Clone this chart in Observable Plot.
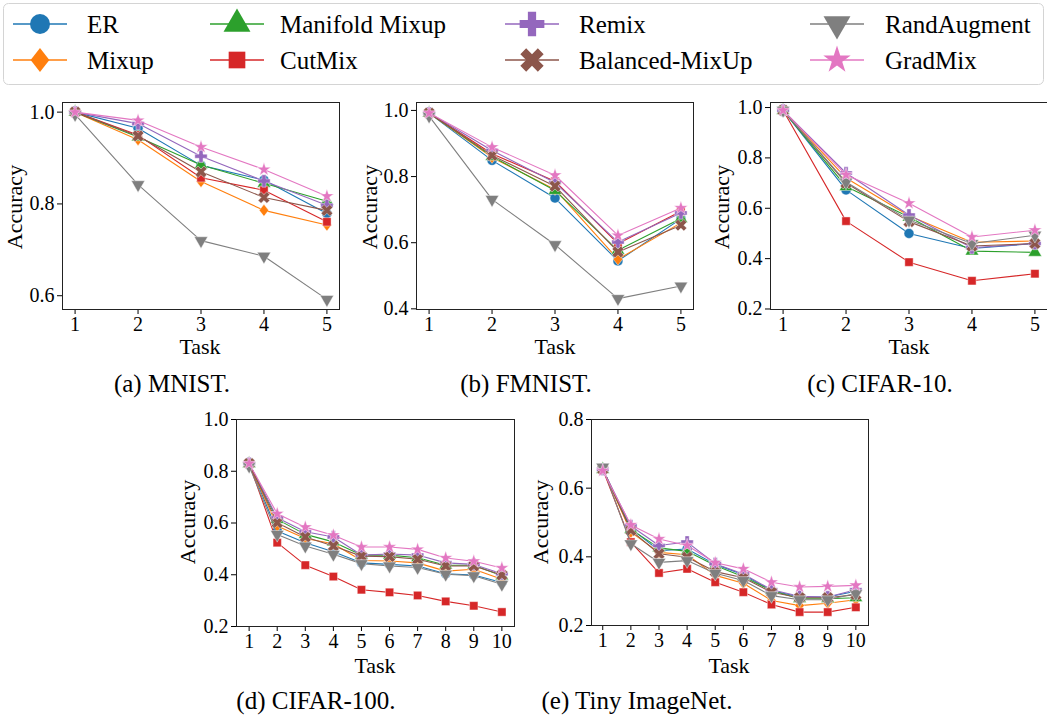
<!DOCTYPE html>
<html><head><meta charset="utf-8">
<script src="https://cdn.jsdelivr.net/npm/d3@7"></script>
<script src="https://cdn.jsdelivr.net/npm/@observablehq/plot@0.6"></script>
<style>
body{margin:0;background:#fff;font-family:"Liberation Serif","DejaVu Serif",serif;}
#root{position:relative;width:1047px;height:715px;overflow:hidden;background:#fff;}
#root svg text{font-family:"Liberation Serif",serif;}
.lbl{position:absolute;font-size:22px;white-space:nowrap;transform:translate(-50%,-50%);line-height:1;color:#000;}
.ylbl{transform:translate(-50%,-50%) rotate(-90deg);}
.cap{font-size:25px;}
</style></head><body><div id="root"></div>
<script>
// ---------------- data ----------------
const methods = ["ER","Mixup","Manifold Mixup","CutMix","Remix","Balanced-MixUp","RandAugment","GradMix"];
const colors = ["#1f77b4","#ff7f0e","#2ca02c","#d62728","#9467bd","#8c564b","#7f7f7f","#e377c2"];
const tasks5 = [1,2,3,4,5];
const tasks10 = [1,2,3,4,5,6,7,8,9,10];

// rows follow the order of `methods`
const mnist = [
  [1.0, 0.965, 0.884, 0.852, 0.779],
  [1.0, 0.940, 0.849, 0.786, 0.754],
  [1.0, 0.946, 0.885, 0.845, 0.806],
  [1.0, 0.950, 0.857, 0.830, 0.761],
  [1.0, 0.975, 0.904, 0.850, 0.797],
  [1.0, 0.948, 0.870, 0.814, 0.786],
  [0.995, 0.842, 0.720, 0.686, 0.592],
  [1.0, 0.982, 0.924, 0.875, 0.817]
];
const fmnist = [
  [0.992, 0.849, 0.735, 0.545, 0.672],
  [0.992, 0.858, 0.761, 0.550, 0.660],
  [0.992, 0.861, 0.758, 0.577, 0.673],
  [0.992, 0.869, 0.786, 0.597, 0.695],
  [0.992, 0.879, 0.782, 0.602, 0.690],
  [0.992, 0.864, 0.771, 0.572, 0.653],
  [0.983, 0.731, 0.594, 0.431, 0.469],
  [0.992, 0.889, 0.804, 0.622, 0.705]
];
const cifar10 = [
  [0.989, 0.673, 0.500, 0.440, 0.460],
  [0.989, 0.720, 0.570, 0.465, 0.470],
  [0.989, 0.686, 0.565, 0.430, 0.425],
  [0.989, 0.549, 0.386, 0.312, 0.340],
  [0.989, 0.740, 0.573, 0.443, 0.460],
  [0.989, 0.700, 0.547, 0.450, 0.460],
  [0.989, 0.704, 0.553, 0.460, 0.493],
  [0.989, 0.733, 0.620, 0.486, 0.513]
];
const cifar100 = [
  [0.83, 0.569, 0.524, 0.489, 0.446, 0.440, 0.434, 0.404, 0.399, 0.370],
  [0.83, 0.588, 0.540, 0.520, 0.455, 0.453, 0.446, 0.414, 0.421, 0.383],
  [0.83, 0.614, 0.556, 0.527, 0.476, 0.476, 0.466, 0.437, 0.437, 0.396],
  [0.83, 0.524, 0.437, 0.393, 0.342, 0.332, 0.320, 0.297, 0.280, 0.256],
  [0.83, 0.620, 0.566, 0.546, 0.476, 0.480, 0.476, 0.446, 0.440, 0.404],
  [0.83, 0.601, 0.546, 0.511, 0.472, 0.470, 0.460, 0.434, 0.434, 0.399],
  [0.82, 0.556, 0.511, 0.479, 0.443, 0.434, 0.428, 0.402, 0.396, 0.363],
  [0.83, 0.636, 0.584, 0.553, 0.507, 0.507, 0.498, 0.465, 0.452, 0.426]
];
const tiny = [
  [0.655, 0.483, 0.418, 0.423, 0.378, 0.348, 0.302, 0.283, 0.283, 0.300],
  [0.655, 0.472, 0.413, 0.406, 0.346, 0.323, 0.273, 0.258, 0.265, 0.275],
  [0.655, 0.480, 0.426, 0.416, 0.375, 0.342, 0.302, 0.278, 0.278, 0.281],
  [0.655, 0.443, 0.353, 0.365, 0.326, 0.297, 0.261, 0.239, 0.239, 0.253],
  [0.655, 0.490, 0.433, 0.443, 0.380, 0.350, 0.304, 0.285, 0.283, 0.304],
  [0.655, 0.477, 0.409, 0.399, 0.357, 0.339, 0.297, 0.281, 0.281, 0.290],
  [0.661, 0.438, 0.384, 0.389, 0.352, 0.331, 0.287, 0.275, 0.275, 0.293],
  [0.651, 0.493, 0.452, 0.433, 0.383, 0.365, 0.326, 0.312, 0.314, 0.317]
];
const mnistTicks = [0.6, 0.8, 1.0];
const fmnistTicks = [0.4, 0.6, 0.8, 1.0];
const cifar10Ticks = [0.2, 0.4, 0.6, 0.8, 1.0];
const cifar100Ticks = [0.2, 0.4, 0.6, 0.8, 1.0];
const tinyTicks = [0.2, 0.4, 0.6, 0.8];
const captions = ["(a) MNIST.", "(b) FMNIST.", "(c) CIFAR-10.", "(d) CIFAR-100.", "(e) Tiny ImageNet."];

// ---------------- symbols ----------------
const sq3 = Math.sqrt(3);
const symDown = {draw(c, size){ const y = -Math.sqrt(size/(sq3*3)); c.moveTo(0,-2*y); c.lineTo(-sq3*y, y); c.lineTo(sq3*y, y); c.closePath(); }};
const symX = {draw(c, size){ const r = Math.sqrt(size/5)/2; const k = Math.SQRT1_2;
  const pts=[[-3,-1],[-1,-1],[-1,-3],[1,-3],[1,-1],[3,-1],[3,1],[1,1],[1,3],[-1,3],[-1,1],[-3,1]];
  pts.forEach(([px,py],i)=>{const x=(px-py)*k*r, y=(px+py)*k*r; i?c.lineTo(x,y):c.moveTo(x,y);}); c.closePath(); }};
const symDiamond = {draw(c, size){ const h = Math.sqrt(size)*0.64; const w = h*0.78; c.moveTo(0,-h); c.lineTo(w,0); c.lineTo(0,h); c.lineTo(-w,0); c.closePath(); }};
const symbols = [d3.symbolCircle, symDiamond, d3.symbolTriangle, d3.symbolSquare, d3.symbolCross, symX, symDown, d3.symbolStar];
const radii = [5, 5.3, 5, 4.7, 5.2, 5.2, 5, 4.3];

const root = document.getElementById("root");
const FONT = "'Liberation Serif', serif";

// ---------------- panels ----------------
const panels = [
  {data: mnist, tasks: tasks5, ticks: mnistTicks, yd:[0.57,1.021], xd:[0.8,5.2], x0:62, x1:339, y0:102, y1:309, ay:[15,207], t:[200,347], c:[172,383]},
  {data: fmnist, tasks: tasks5, ticks: fmnistTicks, yd:[0.398,1.024], xd:[0.8,5.2], x0:416, x1:693, y0:102, y1:309, ay:[370,207], t:[555,347], c:[526,383]},
  {data: cifar10, tasks: tasks5, ticks: cifar10Ticks, yd:[0.198,1.02], xd:[0.8,5.2], x0:770, x1:1047, y0:102, y1:309, ay:[722,207], t:[909,347], c:[880,383]},
  {data: cifar100, tasks: tasks10, ticks: cifar100Ticks, yd:[0.2,1.0], xd:[0.55,10.45], x0:236, x1:514, y0:419, y1:626, ay:[188,522], t:[375,666], c:[316,700]},
  {data: tiny, tasks: tasks10, ticks: tinyTicks, yd:[0.2,0.8], xd:[0.6,10.45], x0:591, x1:868, y0:419, y1:625, ay:[541,522], t:[729,666], c:[637,700]}
];

panels.forEach((p, pi) => {
  const ml = 60, mr = 4, mt = 4, mb = 34;
  const marks = [];
  methods.forEach((m, i) => {
    const rows = p.tasks.map((t, j) => ({task: t, acc: p.data[i][j]}));
    marks.push(Plot.line(rows, {x: "task", y: "acc", stroke: colors[i], strokeWidth: 1.1}));
    marks.push(Plot.dot(rows, {x: "task", y: "acc", symbol: symbols[i], r: radii[i], fill: colors[i],
      stroke: "#ffffff", strokeWidth: 0.8, strokeOpacity: 0.55}));
  });
  marks.push(Plot.frame({stroke: "#222", strokeWidth: 1}));
  const svg = Plot.plot({
    width: p.x1 - p.x0 + ml + mr,
    height: p.y1 - p.y0 + mt + mb,
    marginLeft: ml, marginRight: mr, marginTop: mt, marginBottom: mb,
    style: {fontFamily: FONT, fontSize: "20px", background: "transparent", overflow: "visible", maxWidth: "none"},
    x: {domain: p.xd, ticks: p.tasks, tickFormat: d => String(d), label: null, tickSize: 5, tickPadding: 2},
    y: {domain: p.yd, ticks: p.ticks, tickFormat: d3.format(".1f"), label: null, tickSize: 5, tickPadding: 3},
    marks
  });
  svg.setAttribute("font-family", FONT);
  svg.setAttribute("font-size", 20);
  svg.querySelectorAll("g[aria-label$='axis'], g[aria-label*='tick label']").forEach(g => {
    g.setAttribute("font-family", FONT); g.setAttribute("font-size", 20);
  });
  svg.style.position = "absolute";
  svg.style.left = (p.x0 - ml) + "px";
  svg.style.top = (p.y0 - mt) + "px";
  root.appendChild(svg);

  const a = document.createElement("div");
  a.className = "lbl ylbl"; a.textContent = "Accuracy";
  a.style.left = p.ay[0] + "px"; a.style.top = p.ay[1] + "px";
  root.appendChild(a);
  const tl = document.createElement("div");
  tl.className = "lbl"; tl.textContent = "Task";
  tl.style.left = p.t[0] + "px"; tl.style.top = p.t[1] + "px";
  root.appendChild(tl);
  const cp = document.createElement("div");
  cp.className = "lbl cap"; cp.textContent = captions[pi];
  cp.style.left = p.c[0] + "px"; cp.style.top = p.c[1] + "px";
  root.appendChild(cp);
});

// ---------------- legend ----------------
const legendCols = [[13, 87], [210, 280], [505, 579], [810, 885]];
const legendRows = [24, 60];
const ns = "http://www.w3.org/2000/svg";
const lsvg = document.createElementNS(ns, "svg");
lsvg.setAttribute("width", 1047); lsvg.setAttribute("height", 92);
lsvg.style.position = "absolute"; lsvg.style.left = "0px"; lsvg.style.top = "0px";
const box = document.createElementNS(ns, "rect");
box.setAttribute("x", 3.5); box.setAttribute("y", 3.5); box.setAttribute("width", 1040); box.setAttribute("height", 81);
box.setAttribute("rx", 5); box.setAttribute("fill", "#fff"); box.setAttribute("stroke", "#d4d4d4");
lsvg.appendChild(box);
methods.forEach((m, i) => {
  const col = Math.floor(i / 2), row = i % 2;
  const [lx, tx] = legendCols[col]; const y = legendRows[row];
  const ln = document.createElementNS(ns, "line");
  ln.setAttribute("x1", lx); ln.setAttribute("x2", lx + 54); ln.setAttribute("y1", y); ln.setAttribute("y2", y);
  ln.setAttribute("stroke", colors[i]); ln.setAttribute("stroke-width", 2); ln.setAttribute("stroke-opacity", 0.75);
  lsvg.appendChild(ln);
  const s = document.createElementNS(ns, "path");
  const rr = radii[i] * 2;
  s.setAttribute("d", d3.symbol(symbols[i], Math.PI * rr * rr)());
  s.setAttribute("transform", `translate(${lx + 27},${y})`);
  s.setAttribute("fill", colors[i]);
  lsvg.appendChild(s);
  const t = document.createElementNS(ns, "text");
  t.setAttribute("x", tx); t.setAttribute("y", y); t.setAttribute("dy", "0.35em");
  t.setAttribute("font-family", FONT); t.setAttribute("font-size", 25);
  t.textContent = m;
  lsvg.appendChild(t);
});
root.appendChild(lsvg);
</script></body></html>
